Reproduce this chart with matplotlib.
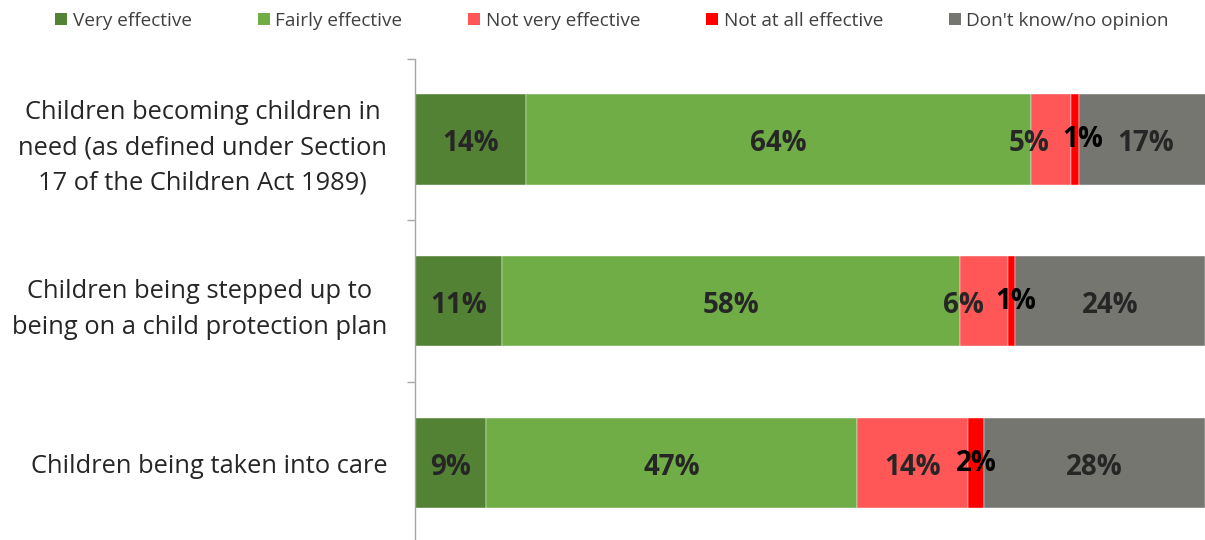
import matplotlib
matplotlib.use("Agg")
import matplotlib.pyplot as plt
import matplotlib.transforms as mtransforms
from matplotlib.patches import Patch

plt.rcParams['font.family'] = ['Open Sans', 'DejaVu Sans']

categories = [
    "Children becoming children in\nneed (as defined under Section\n17 of the Children Act 1989)",
    "Children being stepped up to\nbeing on a child protection plan",
    "Children being taken into care",
]
series_names = ["Very effective", "Fairly effective", "Not very effective",
                "Not at all effective", "Don't know/no opinion"]
very_effective = [14, 11, 9]
fairly_effective = [64, 58, 47]
not_very_effective = [5, 6, 14]
not_at_all_effective = [1, 1, 2]
dont_know = [17, 24, 28]

series = [very_effective, fairly_effective, not_very_effective,
          not_at_all_effective, dont_know]
colors = ["#548235", "#70AD47", "#FF5757", "#FF0000", "#767671"]
label_colors = ["#262626", "#262626", "#262626", "#000000", "#262626"]

# nudges (points) for labels crowded in narrow segments
label_dx = {
    (0, 2): -16, (0, 3): 6,
    (1, 2): -15, (1, 3): 3,
}
base_dy = -3.0
label_dy = {(0, 3): 0.0, (1, 3): 0.0, (2, 3): 0.0}

fig = plt.figure(figsize=(12.05, 5.40), dpi=100)
ax = fig.add_axes([415 / 1205, -4 / 540, 790 / 1205, (544 - 58.6) / 540])

y = list(range(len(categories)))
left = [0] * len(categories)
for si, (vals, col) in enumerate(zip(series, colors)):
    ax.barh(y, vals, left=left, height=0.557, color=col,
            edgecolor="white", linewidth=0.3)
    for ci, v in enumerate(vals):
        cx = left[ci] + v / 2
        ax.annotate(f"{v}%", (cx, y[ci]),
                    xytext=(label_dx.get((ci, si), 0),
                            label_dy.get((ci, si), base_dy)),
                    textcoords="offset points", ha="center", va="center",
                    fontsize=20, fontweight="bold", color=label_colors[si])
    left = [l + v for l, v in zip(left, vals)]

ax.set_xlim(0, 100)
ax.set_ylim(len(categories) - 0.5, -0.5)
ax.set_xticks([])
ax.set_yticks(y)
ax.set_yticklabels(categories, fontsize=18.4, color="#262626", linespacing=1.55)
lift = mtransforms.ScaledTranslation(0, 3 / 100, fig.dpi_scale_trans)
for t in ax.get_yticklabels():
    t.set_multialignment("center")
    t.set_transform(t.get_transform() + lift)
ax.set_yticks([-0.5, 0.5, 1.5, 2.5], minor=True)
ax.tick_params(axis="y", which="major", length=0, pad=20)
ax.tick_params(axis="y", which="minor", length=6, color="#A6A6A6", width=1)
for s in ["top", "right", "bottom"]:
    ax.spines[s].set_visible(False)
ax.spines["left"].set_color("#A6A6A6")
ax.spines["left"].set_linewidth(1)

handles = [Patch(facecolor=c, edgecolor="none", label=n)
           for c, n in zip(colors, series_names)]
fig.legend(handles=handles, loc="upper center", bbox_to_anchor=(0.508, 1.01),
           ncol=5, frameon=False, fontsize=13.7, handlelength=0.63,
           handleheight=0.63, handletextpad=0.3, columnspacing=3.45,
           labelcolor="#404040")

fig.savefig("out.png", dpi=100)
